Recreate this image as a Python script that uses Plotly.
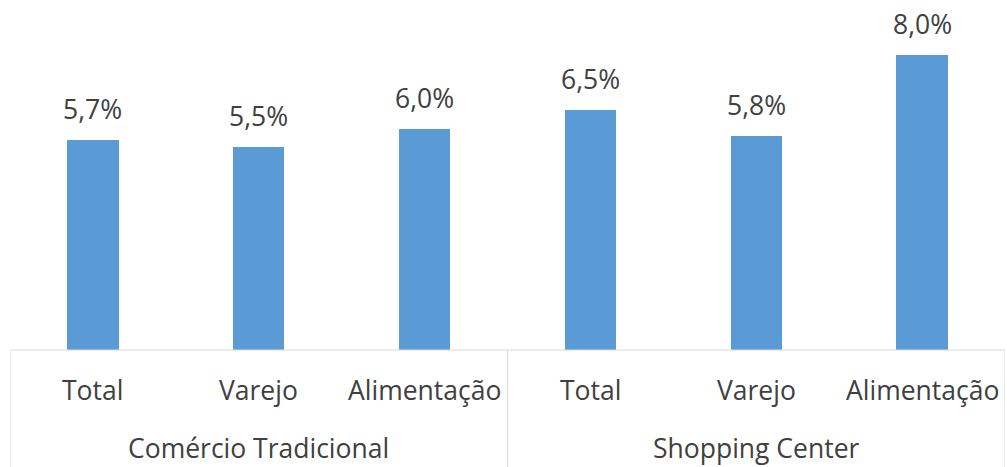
import plotly.graph_objects as go

groups = ["Comércio Tradicional", "Comércio Tradicional", "Comércio Tradicional",
          "Shopping Center", "Shopping Center", "Shopping Center"]
categories = ["Total", "Varejo", "Alimentação", "Total", "Varejo", "Alimentação"]
values = [5.7, 5.5, 6.0, 6.5, 5.8, 8.0]
group_names = ["Comércio Tradicional", "Shopping Center"]

BAR = "#5B9BD5"
TXT = "#404040"
LINE = "#D9D9D9"
FONT = "Open Sans"
FS = 26.5

x_idx = list(range(len(values)))

fig = go.Figure()
fig.add_trace(go.Bar(
    x=x_idx, y=values, width=0.31, marker=dict(color=BAR, line=dict(width=0)),
    hoverinfo="skip", showlegend=False,
))

annotations = []
for i, v in enumerate(values):
    annotations.append(dict(
        x=i, y=v, xref="x", yref="y", text=f"{v:.1f}%".replace(".", ","),
        showarrow=False, yanchor="middle", yshift=31,
        font=dict(family=FONT, size=FS, color=TXT),
    ))
for i, c in enumerate(categories):
    annotations.append(dict(
        x=i, y=-0.118, xref="x", yref="paper", text=c, showarrow=False,
        yanchor="middle", font=dict(family=FONT, size=FS, color=TXT),
    ))
for gi, g in enumerate(group_names):
    members = [i for i, gg in enumerate(groups) if gg == g]
    xc = sum(members) / len(members)
    annotations.append(dict(
        x=xc, y=-0.289, xref="x", yref="paper", text=g, showarrow=False,
        yanchor="middle", font=dict(family=FONT, size=FS, color=TXT),
    ))

shapes = [dict(type="line", xref="paper", yref="paper", x0=0, x1=1, y0=0, y1=0,
               line=dict(color=LINE, width=1))]
for xb in [-0.5, 2.5, 5.5]:
    shapes.append(dict(type="line", xref="x", yref="paper", x0=xb, x1=xb, y0=0, y1=-0.4,
                       line=dict(color=LINE, width=1)))

fig.update_layout(
    width=1007, height=467,
    margin=dict(l=10, r=2, t=10, b=117),
    paper_bgcolor="white", plot_bgcolor="white",
    xaxis=dict(range=[-0.5, 5.5], showticklabels=False, showgrid=False,
               zeroline=False, showline=False, ticks=""),
    yaxis=dict(range=[0, 9.21], visible=False, showgrid=False, zeroline=False),
    annotations=annotations, shapes=shapes, bargap=0,
)

fig.write_html(
    "out.html",
    config={"displayModeBar": False},
    post_script="document.body.style.margin='0';document.body.style.overflow='hidden';",
)
